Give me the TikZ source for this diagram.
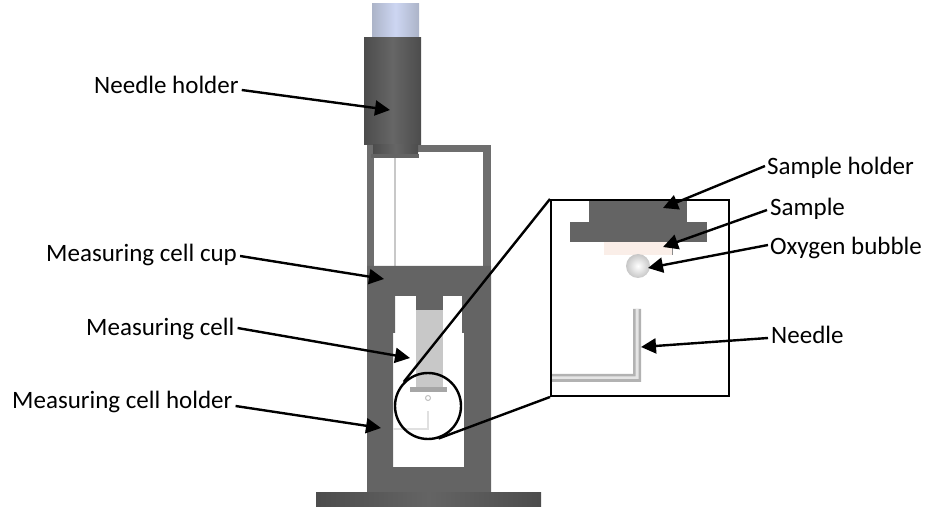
\documentclass[tikz,border=0pt]{standalone}
\usepackage{fontspec}
\setmainfont{Carlito}
\usetikzlibrary{arrows.meta}
\definecolor{partgrey}{RGB}{100,100,100}
\definecolor{wallgrey}{RGB}{110,110,110}
\definecolor{cellgrey}{RGB}{200,200,200}
\definecolor{samplepink}{RGB}{250,238,232}
\definecolor{pinedge}{RGB}{172,180,200}
\definecolor{pinmid}{RGB}{205,214,242}
\tikzset{
  lbl/.style={font=\fontsize{25}{28}\selectfont,inner sep=0pt},
  pointer/.style={line width=2.4pt,-{Triangle[length=15pt,width=15pt]}},
  zoomline/.style={line width=2.4pt},
}
\begin{document}
\begin{tikzpicture}[x=1pt,y=-1pt]
  \useasboundingbox (0,0) rectangle (937,510);
  % needle holder
  \shade[left color=pinedge,right color=pinedge,middle color=pinmid] (372,4) rectangle (419,38);
  \fill[wallgrey] (367,145) rectangle (491,152);
  \fill[wallgrey] (367,152) rectangle (374,266);
  \fill[wallgrey] (483,152) rectangle (491,266);
  \draw[cellgrey,line width=1.5pt] (395,157) -- (395,266);
  \shade[left color=black!70,right color=black!70,middle color=black!60] (364,38) rectangle (421,145);
  \shade[left color=black!70,right color=black!70,middle color=black!60] (373,145) rectangle (418,154);
  \fill[partgrey] (371,154) rectangle (419,158);
  % holder with cavity
  \fill[partgrey,even odd rule] (367,266) rectangle (491,492)
    (395,296) -- (462,296) -- (462,333) -- (464,333) -- (464,467) -- (393,467) -- (393,333) -- (395,333) -- cycle;
  \shade[left color=black!70,right color=black!70,middle color=partgrey] (316,492) rectangle (541,506);
  % cell
  \fill[partgrey] (416,296) rectangle (443,310);
  \fill[cellgrey] (416,310) rectangle (443,387);
  \fill[black!35] (410,387) rectangle (447,392);
  \draw[black!25,line width=1pt] (428,398) circle (2.5);
  \draw[black!12,line width=1.5pt] (393,429) -- (428,429) -- (428,411);
  % enlarged view
  \node[draw,line width=2pt,minimum width=178pt,minimum height=196pt,inner sep=0pt] (inset) at (640,298) {};
  \fill[partgrey] (589,201) rectangle (687,222);
  \fill[partgrey] (570,222) rectangle (707,242);
  \fill[samplepink] (604,242) rectangle (673,255);
  \draw[black!45,line width=.8pt] (672.5,242) -- (672.5,255);
  \shade[inner color=white,outer color=black!22] (638,266) circle (12);
  \fill[black!30] (633,309) -- (641,309) -- (641,382) -- (552,382) -- (552,374) -- (633,374) -- cycle;
  \fill[black!10] (635.5,309) -- (638.5,309) -- (638.5,379) -- (552,379) -- (552,376.5) -- (635.5,376.5) -- cycle;
  \node[draw,circle,line width=2.4pt,minimum size=66pt,inner sep=0pt] (lens) at (428,406) {};
  \draw[zoomline] (lens.135) -- (inset.north west);
  \draw[zoomline] (lens.-72) -- (inset.south west);
  % labels
  \node[lbl,anchor=west] (nholder) at (94,85) {Needle holder};
  \node[lbl,anchor=west] (cup) at (46,255) {Measuring cell cup};
  \node[lbl,anchor=west] (cell) at (86,329) {Measuring cell};
  \node[lbl,anchor=west] (cholder) at (12,402) {Measuring cell holder};
  \node[lbl,anchor=west] (sholder) at (767,168) {Sample holder};
  \node[lbl,anchor=west] (sample) at (770,209) {Sample};
  \node[lbl,anchor=west] (bubble) at (770,248) {Oxygen bubble};
  \node[lbl,anchor=west] (needle) at (771,335) {Needle};
  \coordinate (a1) at (390,110);
  \coordinate (a2) at (384,279);
  \coordinate (a3) at (410,358);
  \coordinate (a4) at (381,428);
  \coordinate (a5) at (663,208);
  \coordinate (a6) at (663,247);
  \coordinate (a7) at (648,268);
  \coordinate (a8) at (641,347);
  \draw[pointer] (nholder.east) ++(3,5) -- (a1);
  \draw[pointer] (cup.east) ++(3,1) -- (a2);
  \draw[pointer] (cell.east) ++(3,-1) -- (a3);
  \draw[pointer] (cholder.east) ++(3,4) -- (a4);
  \draw[pointer] (sholder.west) ++(-2,-2) -- (a5);
  \draw[pointer] (sample.west) ++(-3,1) -- (a6);
  \draw[pointer] (bubble.west) ++(-2,-3) -- (a7);
  \draw[pointer] (needle.west) ++(-3,3) -- (a8);
\end{tikzpicture}
\end{document}
